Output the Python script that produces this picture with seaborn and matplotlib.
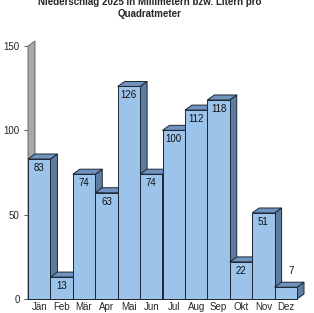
import matplotlib
matplotlib.use("Agg")
import matplotlib.pyplot as plt
import seaborn as sns
import pandas as pd
from matplotlib.patches import Polygon

months = ["Jän", "Feb", "Mär", "Apr", "Mai", "Jun", "Jul", "Aug", "Sep", "Okt", "Nov", "Dez"]
values = [83, 13, 74, 63, 126, 74, 100, 112, 118, 22, 51, 7]
yticks = [0, 50, 100, 150]
title = "Niederschlag 2025 in Millimetern bzw. Litern pro\nQuadratmeter"

sns.set_style("white")
plt.rcParams["font.family"] = ["Liberation Sans", "DejaVu Sans"]

FRONT = "#9cc4ea"
SIDE = "#5d7ca1"
TOP = "#7193c0"
EDGE = "#1c2633"

W, H = 314, 313
fig = plt.figure(figsize=(W / 100, H / 100), dpi=100)
ax = fig.add_axes([28 / W, 14 / H, 269 / W, 253 / H])

df = pd.DataFrame({"month": months, "value": values})
sns.barplot(data=df, x="month", y="value", width=1.0, color=FRONT,
            saturation=1, edgecolor=EDGE, linewidth=0.7, ax=ax, zorder=3)
ax.set_xlim(-0.5, len(months) - 0.5)
ax.set_ylim(0, 150)
bars = list(ax.patches)

# depth offset in data units (7 px right, 5 px up)
fig.canvas.draw()
inv = ax.transData.inverted()
p0 = inv.transform(ax.transData.transform((0, 0)))
p1 = inv.transform(ax.transData.transform((0, 0)) + [7, 5])
ddx, ddy = p1[0] - p0[0], p1[1] - p0[1]

# left wall
wall = Polygon([(-0.5, 0), (-0.5, 150), (-0.5 + ddx, 150 + ddy), (-0.5 + ddx, ddy)],
               closed=True, facecolor="#a8a8a8", edgecolor="#6a6a6a", lw=0.7,
               zorder=1, clip_on=False)
ax.add_patch(wall)

for i, bar in enumerate(bars):
    x0 = bar.get_x()
    w = bar.get_width()
    h = bar.get_height()
    x1 = x0 + w
    z = 3 + i * 0.1
    side = Polygon([(x1, 0), (x1, h), (x1 + ddx, h + ddy), (x1 + ddx, ddy)], closed=True,
                   facecolor=SIDE, edgecolor=EDGE, lw=0.7, zorder=z, clip_on=False)
    top = Polygon([(x0, h), (x1, h), (x1 + ddx, h + ddy), (x0 + ddx, h + ddy)], closed=True,
                  facecolor=TOP, edgecolor=EDGE, lw=0.7, zorder=z, clip_on=False)
    ax.add_patch(side)
    ax.add_patch(top)
    bar.set_zorder(z + 0.05)
    bar.set_clip_on(False)
    v = values[i]
    if v >= 10:
        ax.annotate(str(v), (x0 + w / 2, h), xytext=(0, -9), textcoords="offset pixels",
                    ha="center", va="center", fontsize=7, color="#111111",
                    zorder=10, annotation_clip=False)
    else:
        ax.annotate(str(v), (x0 + w / 2, h), xytext=(5, 16), textcoords="offset pixels",
                    ha="center", va="center", fontsize=7, color="#111111",
                    zorder=10, annotation_clip=False)

ax.set_yticks(yticks)
ax.set_yticklabels([str(t) for t in yticks], fontsize=7)
ax.set_xticks(range(len(months)))
ax.set_xticklabels(months, fontsize=7)
ax.set_xticks([i - 0.5 for i in range(len(months) + 1)], minor=True)
ax.tick_params(axis="x", which="major", length=0, pad=2.5)
ax.tick_params(axis="x", which="minor", length=3, width=0.7, color="#555555", direction="out")
ax.tick_params(axis="y", length=3, width=0.7, color="#555555", direction="out", pad=3, left=True)
ax.set_xlabel("")
ax.set_ylabel("")
for s in ["top", "right", "left"]:
    ax.spines[s].set_visible(False)
ax.spines["bottom"].set_color("#555555")
ax.spines["bottom"].set_linewidth(0.7)
ax.spines["bottom"].set_zorder(0)

fig.text(150 / W, 1 - 8 / H, title, ha="center", va="center", fontsize=7,
         fontweight="bold", linespacing=1.15)

fig.savefig("out.png", dpi=100)
